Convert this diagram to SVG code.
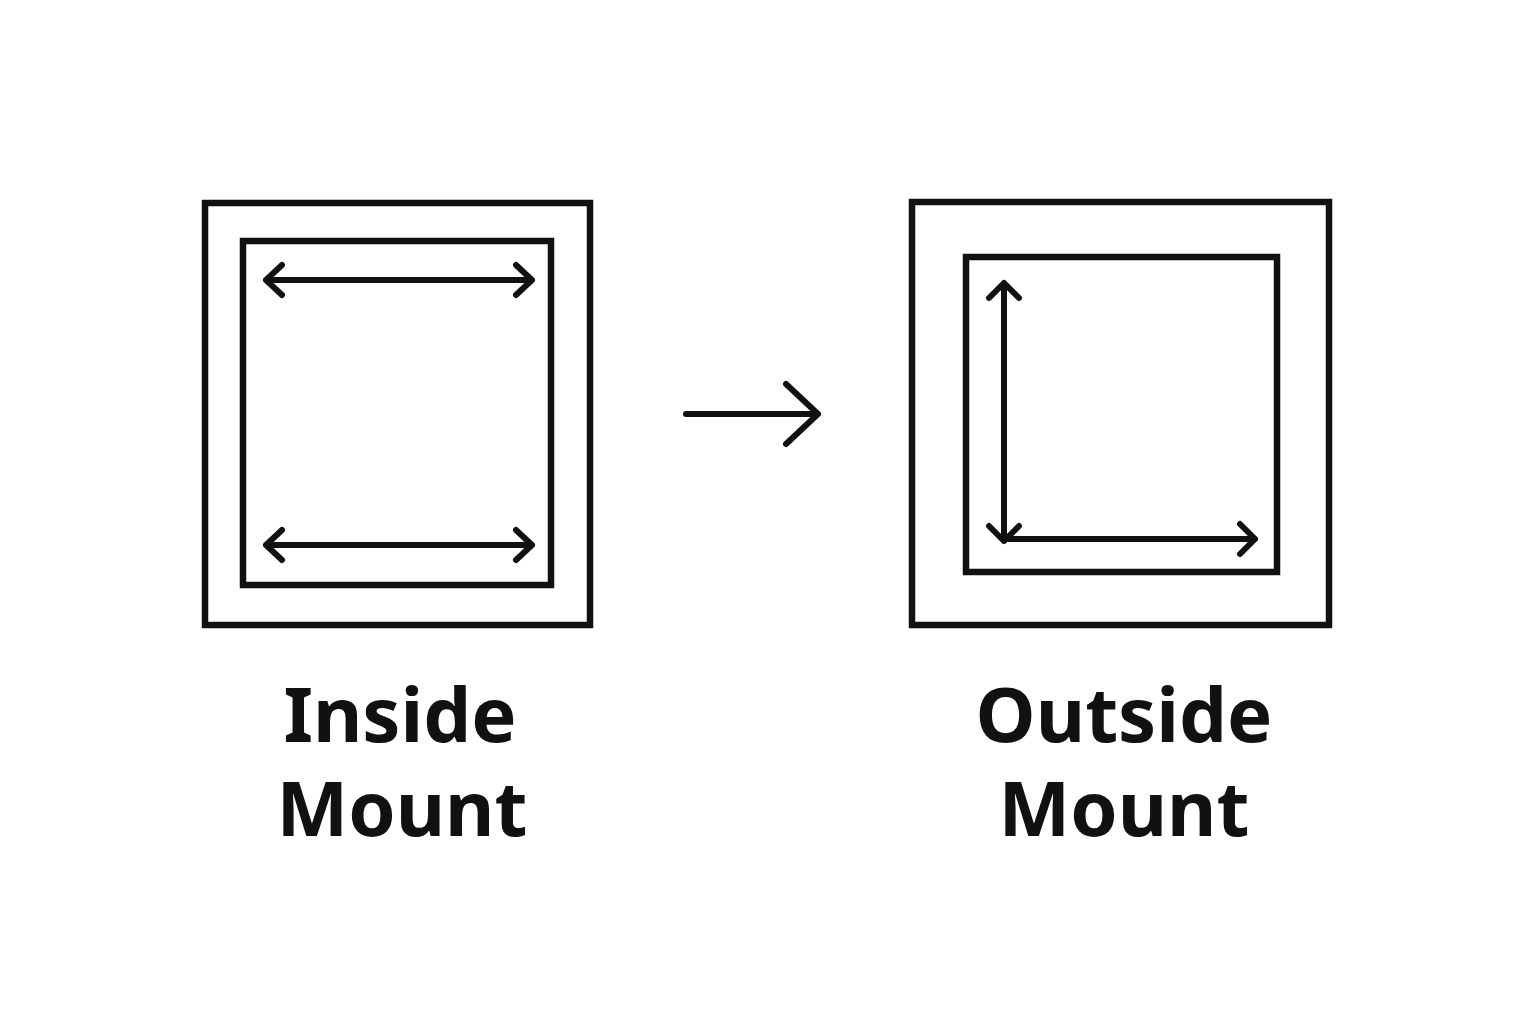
<svg xmlns="http://www.w3.org/2000/svg" width="1536" height="1024" viewBox="0 0 1536 1024">
<style>
.f{fill:none;stroke:#111;stroke-width:6.5;stroke-linejoin:miter}
.a{fill:none;stroke:#111;stroke-width:6;stroke-linecap:round;stroke-linejoin:round}
.t{font-family:"Noto Sans","DejaVu Sans",sans-serif;font-weight:bold;font-size:76px;fill:#111;text-anchor:middle}
</style>
<rect width="1536" height="1024" fill="#fff"/>
<g id="inside">
<rect class="f" x="205" y="203" width="385" height="422"/>
<rect class="f" x="243" y="241" width="308" height="344"/>
<path class="a" d="M266 280H532M282 265L266 280L282 295M516 265L532 280L516 295"/>
<path class="a" d="M266 545H532M282 530L266 545L282 560M516 530L532 545L516 560"/>
<text class="t" x="400" y="742">Inside</text>
<text class="t" x="402" y="836">Mount</text>
</g>
<g id="connectors">
<path class="a" d="M686 414H818M786 384L818 414L786 444"/>
</g>
<g id="outside">
<rect class="f" x="912" y="202" width="417" height="423"/>
<rect class="f" x="966" y="257" width="311" height="315"/>
<path class="a" d="M1004 283V541M989 298L1004 283L1019 298M989 526L1004 541L1019 526"/>
<path class="a" d="M1004 539H1255M1240 524L1255 539L1240 554"/>
<text class="t" x="1124" y="742">Outside</text>
<text class="t" x="1124" y="836">Mount</text>
</g>
</svg>
